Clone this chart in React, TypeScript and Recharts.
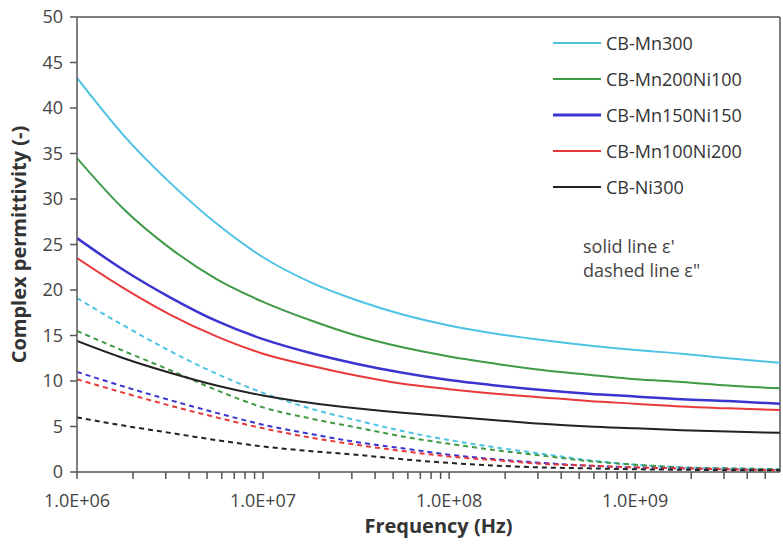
import React from "react";
import {
    LineChart,
    Line,
    XAxis,
    YAxis,
    Legend,
    ReferenceLine,
} from "recharts";

// frequency points (Hz), quarter decades
const freqs = [
    1e6, 1.78e6, 3.16e6, 5.62e6, 1e7, 1.78e7, 3.16e7, 5.62e7,
    1e8, 1.78e8, 3.16e8, 5.62e8, 1e9, 1.78e9, 3.16e9, 6e9,
];

// solid lines: ε'
const mn300Real = [43.3, 37.0, 31.8, 27.3, 23.6, 20.9, 18.9, 17.3, 16.1, 15.2, 14.5, 13.9, 13.4, 13.0, 12.5, 12.0];
const mn200ni100Real = [34.5, 28.9, 24.6, 21.2, 18.7, 16.7, 15.0, 13.7, 12.7, 11.9, 11.2, 10.7, 10.2, 9.9, 9.5, 9.2];
const mn150ni150Real = [25.7, 22.2, 19.2, 16.6, 14.6, 13.1, 11.9, 10.9, 10.1, 9.5, 9.0, 8.6, 8.3, 8.0, 7.8, 7.5];
const mn100ni200Real = [23.5, 20.2, 17.3, 14.9, 13.0, 11.7, 10.6, 9.7, 9.1, 8.6, 8.2, 7.8, 7.5, 7.2, 7.0, 6.8];
const ni300Real = [14.4, 12.5, 10.9, 9.5, 8.4, 7.6, 7.0, 6.5, 6.1, 5.7, 5.3, 5.0, 4.8, 4.6, 4.45, 4.3];

// dashed lines: ε''
const mn300Imag = [19.1, 16.1, 13.3, 10.8, 8.7, 7.0, 5.7, 4.5, 3.5, 2.7, 2.0, 1.3, 0.8, 0.5, 0.4, 0.3];
const mn200ni100Imag = [15.5, 13.3, 11.2, 9.0, 7.1, 5.9, 4.9, 3.9, 3.1, 2.4, 1.8, 1.2, 0.8, 0.5, 0.4, 0.3];
const mn150ni150Imag = [11.0, 9.4, 7.9, 6.5, 5.2, 4.2, 3.3, 2.6, 1.9, 1.4, 1.0, 0.7, 0.5, 0.4, 0.3, 0.2];
const mn100ni200Imag = [10.2, 8.7, 7.3, 6.0, 4.8, 3.8, 3.0, 2.3, 1.7, 1.3, 0.9, 0.7, 0.5, 0.4, 0.3, 0.2];
const ni300Imag = [6.0, 5.1, 4.3, 3.5, 2.8, 2.3, 1.9, 1.4, 1.0, 0.7, 0.5, 0.4, 0.3, 0.25, 0.2, 0.2];

const seriesNames = ["CB-Mn300", "CB-Mn200Ni100", "CB-Mn150Ni150", "CB-Mn100Ni200", "CB-Ni300"];
const seriesColors = ["#4cc3e3", "#3f9a45", "#3a35d0", "#e8383a", "#222222"];
const realSeries = [mn300Real, mn200ni100Real, mn150ni150Real, mn100ni200Real, ni300Real];
const imagSeries = [mn300Imag, mn200ni100Imag, mn150ni150Imag, mn100ni200Imag, ni300Imag];

// axis ticks
const majorTicks = [1e6, 1e7, 1e8, 1e9];
const majorLabels = ["1.0E+06", "1.0E+07", "1.0E+08", "1.0E+09"];
const minorTicks = [
    2e6, 3e6, 4e6, 5e6, 6e6, 7e6, 8e6, 9e6,
    2e7, 3e7, 4e7, 5e7, 6e7, 7e7, 8e7, 9e7,
    2e8, 3e8, 4e8, 5e8, 6e8, 7e8, 8e8, 9e8,
    2e9, 3e9, 4e9, 5e9,
];
const yTicks = [0, 5, 10, 15, 20, 25, 30, 35, 40, 45, 50];

const data = freqs.map((f, i) => {
    const row: Record<string, number> = { f };
    seriesNames.forEach((name, s) => {
        row[`r${s}`] = realSeries[s][i];
        row[`i${s}`] = imagSeries[s][i];
    });
    return row;
});

const FONT = "'Open Sans', sans-serif";
const AXIS = "#555";

// tick mark + label drawn together (x axis: label sits 18px below the axis line)
const XTick = (props: any) => {
    const { x, y, payload } = props;
    const k = majorTicks.indexOf(payload.value);
    return (
        <g>
            <line x1={x} x2={x} y1={y - 18} y2={y - 11} stroke={AXIS} strokeWidth={1.5} />
            {k >= 0 && (
                <text x={x} y={y + 17} textAnchor="middle" fill="#444" fontSize={18} fontFamily={FONT}>
                    {majorLabels[k]}
                </text>
            )}
        </g>
    );
};

const YTick = (props: any) => {
    const { x, y, payload } = props;
    return (
        <g>
            <line x1={x + 7} x2={x + 14} y1={y} y2={y} stroke={AXIS} strokeWidth={1.5} />
            <text x={x} y={y + 6} textAnchor="end" fill="#444" fontSize={18} fontFamily={FONT}>
                {payload.value}
            </text>
        </g>
    );
};

const LegendBox = () => (
    <div style={{ fontFamily: FONT, fontSize: 18, color: "#333" }}>
        {seriesNames.map((name, s) => (
            <div key={name} style={{ display: "flex", alignItems: "center", height: 36 }}>
                <svg width={48} height={6} style={{ marginRight: 5 }}>
                    <line x1={0} y1={3} x2={48} y2={3} stroke={seriesColors[s]} strokeWidth={s === 2 ? 3 : 2} />
                </svg>
                <span>{name}</span>
            </div>
        ))}
    </div>
);

const App = () => {
    return (
        <div style={{ position: "absolute", left: 0, top: 0, background: "#fff" }}>
            <LineChart width={783} height={545} data={data} margin={{ top: 17, right: 3, bottom: 0, left: 0 }}>
                <XAxis
                    dataKey="f"
                    type="number"
                    scale="log"
                    domain={[1e6, 6e9]}
                    allowDataOverflow
                    ticks={[...majorTicks, ...minorTicks]}
                    interval={0}
                    height={73}
                    tickSize={6}
                    tickMargin={12}
                    stroke={AXIS}
                    strokeWidth={1.5}
                    tickLine={false}
                    tick={<XTick />}
                    label={{
                        value: "Frequency (Hz)",
                        position: "insideBottom",
                        offset: 12,
                        dx: 10,
                        style: { fill: "#333", fontSize: 20, fontWeight: 700, fontFamily: FONT },
                    }}
                />
                <YAxis
                    type="number"
                    domain={[0, 50]}
                    ticks={yTicks}
                    interval={0}
                    width={77}
                    tickSize={6}
                    tickMargin={8}
                    stroke={AXIS}
                    strokeWidth={1.5}
                    tickLine={false}
                    tick={<YTick />}
                    label={{
                        value: "Complex permittivity (-)",
                        angle: -90,
                        position: "insideLeft",
                        offset: 19,
                        style: { textAnchor: "middle", fill: "#333", fontSize: 20, fontWeight: 700, fontFamily: FONT },
                    }}
                />
                <ReferenceLine y={50} stroke={AXIS} strokeWidth={1.5} />
                <ReferenceLine x={6e9} stroke={AXIS} strokeWidth={1.5} />
                {seriesNames.map((name, s) => (
                    <Line
                        key={`i${s}`}
                        dataKey={`i${s}`}
                        type="monotone"
                        stroke={seriesColors[s]}
                        strokeWidth={2}
                        strokeDasharray="5 4"
                        dot={false}
                        isAnimationActive={false}
                        legendType="none"
                    />
                ))}
                {seriesNames.map((name, s) => (
                    <Line
                        key={`r${s}`}
                        dataKey={`r${s}`}
                        name={name}
                        type="monotone"
                        stroke={seriesColors[s]}
                        strokeWidth={s === 2 ? 2.5 : 2}
                        dot={false}
                        isAnimationActive={false}
                    />
                ))}
                <Legend
                    layout="vertical"
                    align="center"
                    verticalAlign="middle"
                    wrapperStyle={{ left: 553, top: 25, width: 225 }}
                    content={() => <LegendBox />}
                />
                <text x={583} y={253} fill="#444" fontSize={18} fontFamily={FONT}>solid line ε'</text>
                <text x={583} y={277} fill="#444" fontSize={18} fontFamily={FONT}>dashed line ε"</text>
            </LineChart>
        </div>
    );
};

export default App;
